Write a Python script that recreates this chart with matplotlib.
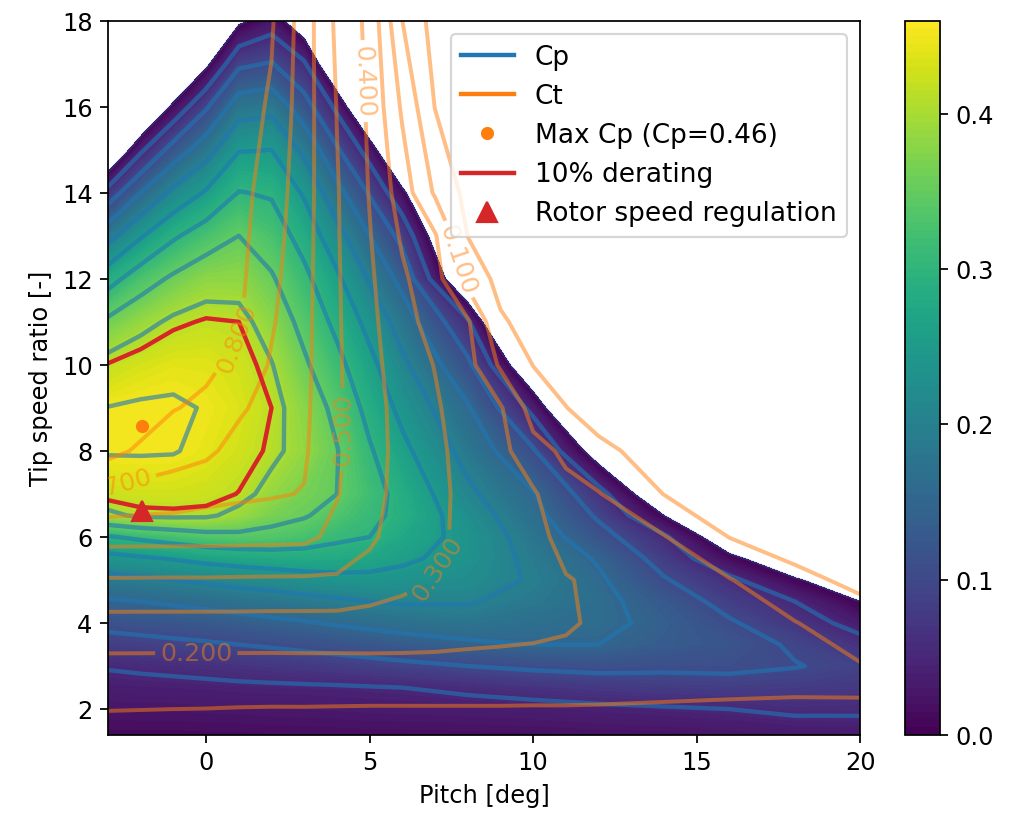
import numpy as np
import matplotlib
matplotlib.use('Agg')
import matplotlib.pyplot as plt
from matplotlib.lines import Line2D

plt.rcParams['font.size'] = 11

# Cp table: one list per pitch, values along tsr
pitch = [-3, -2, -1, 0, 1, 2, 3, 4, 5, 6, 8, 10, 12, 14, 16, 18, 20]
tsr = [1.4, 2, 2.5, 3, 3.5, 4, 4.5, 5, 5.5, 6, 6.5, 7, 8, 9, 10, 11, 12, 13, 14, 15, 16, 17, 18]
cp_by_pitch = [
    [.012, .025, .037, .053, .082, .113, .145, .184, .235, .296, .392, .423, .453, .451, .416, .359, .281, .183, .070, -.075, -.15, -.2, -.25],
    [.012, .026, .039, .056, .086, .118, .150, .192, .244, .309, .406, .427, .453, .455, .430, .386, .327, .245, .150, .041, -.09, -.15, -.2],
    [.012, .026, .040, .059, .091, .122, .156, .200, .253, .321, .408, .427, .452, .455, .439, .408, .358, .293, .212, .121, .012, -.10, -.15],
    [.013, .027, .041, .063, .095, .127, .163, .208, .263, .333, .406, .424, .442, .448, .438, .417, .381, .325, .255, .179, .094, -.012, -.13],
    [.013, .028, .043, .067, .100, .133, .171, .216, .270, .338, .389, .413, .428, .435, .428, .414, .382, .350, .302, .247, .177, .090, -.010],
    [.014, .029, .044, .071, .105, .140, .178, .222, .276, .335, .366, .387, .409, .414, .402, .380, .355, .326, .295, .250, .185, .103, .025],
    [.014, .030, .045, .075, .111, .146, .185, .230, .279, .324, .354, .365, .385, .378, .357, .336, .312, .282, .244, .188, .121, .056, -.040],
    [.015, .031, .046, .080, .117, .154, .192, .236, .277, .309, .332, .350, .352, .338, .314, .288, .259, .218, .167, .106, .039, -.07, -.15],
    [.016, .032, .048, .085, .123, .161, .200, .238, .270, .300, .310, .318, .305, .285, .263, .235, .195, .150, .095, .028, -.09, -.15, -.2],
    [.016, .033, .050, .090, .130, .168, .205, .235, .258, .274, .289, .285, .262, .237, .210, .177, .135, .085, .013, -.10, -.15, -.2, -.2],
    [.017, .035, .058, .100, .142, .177, .204, .222, .233, .236, .225, .210, .182, .155, .110, .058, -.07, -.13, -.2, -.2, -.2, -.2, -.2],
    [.018, .037, .067, .108, .150, .166, .183, .195, .188, .178, .165, .152, .105, .036, -.06, -.2, -.2, -.2, -.2, -.2, -.2, -.2, -.2],
    [.020, .042, .074, .113, .150, .162, .163, .157, .145, .118, .093, .068, -.03, -.15, -.2, -.2, -.2, -.2, -.2, -.2, -.2, -.2, -.2],
    [.021, .046, .079, .109, .132, .138, .127, .104, .081, .057, .000, -.056, -.15, -.2, -.2, -.2, -.2, -.2, -.2, -.2, -.2, -.2, -.2],
    [.025, .050, .082, .110, .120, .105, .084, .060, .012, -.04, -.10, -.15, -.2, -.2, -.2, -.2, -.2, -.2, -.2, -.2, -.2, -.2, -.2],
    [.030, .057, .080, .102, .094, .072, .050, .005, -.04, -.08, -.12, -.15, -.2, -.2, -.2, -.2, -.2, -.2, -.2, -.2, -.2, -.2, -.2],
    [.033, .056, .075, .089, .065, .034, .000, -.035, -.07, -.10, -.13, -.15, -.2, -.2, -.2, -.2, -.2, -.2, -.2, -.2, -.2, -.2, -.2],
]

# Ct table, same layout on its own grid
ct_pitch = [-3, -1, 0, 1, 2, 3, 4, 5, 6, 7, 8, 9, 10, 11, 12, 14, 16, 18, 20]
ct_tsr = [1.4, 2, 2.5, 3, 4, 5, 6, 7, 8, 9, 10, 11, 12, 13, 14, 16, 18]
ct_by_pitch = [
    [.060, .103, .138, .172, .267, .393, .531, .680, .830, .840, .845, .850, .855, .860, .865, .875, .885],
    [.058, .100, .135, .171, .267, .392, .530, .655, .739, .805, .820, .830, .840, .848, .855, .865, .875],
    [.057, .099, .134, .171, .267, .392, .529, .632, .720, .780, .820, .828, .835, .840, .845, .853, .860],
    [.056, .097, .133, .171, .267, .390, .527, .619, .665, .715, .776, .810, .820, .827, .832, .840, .850],
    [.055, .096, .132, .171, .266, .389, .525, .609, .636, .663, .690, .710, .726, .742, .757, .789, .810],
    [.055, .096, .133, .172, .266, .388, .522, .596, .612, .620, .625, .628, .632, .636, .640, .645, .650],
    [.054, .095, .133, .172, .265, .387, .475, .505, .512, .513, .512, .511, .510, .508, .507, .497, .480],
    [.054, .094, .133, .173, .265, .352, .420, .440, .445, .443, .435, .425, .415, .405, .395, .385, .375],
    [.054, .094, .133, .173, .262, .322, .345, .360, .365, .360, .345, .330, .315, .287, .252, .185, .100],
    [.054, .094, .133, .173, .255, .298, .315, .320, .318, .310, .297, .268, .238, .209, .087, -.003, -.040],
    [.054, .094, .133, .174, .240, .270, .280, .278, .270, .258, .235, .212, .067, -.002, -.030, -.050, -.060],
    [.053, .094, .133, .175, .230, .253, .257, .246, .230, .210, .085, .012, -.030, -.045, -.055, -.065, -.075],
    [.052, .093, .133, .175, .222, .235, .230, .212, .133, .059, -.002, -.035, -.045, -.055, -.060, -.070, -.080],
    [.052, .093, .133, .180, .208, .205, .170, .125, .083, .002, -.040, -.050, -.055, -.060, -.065, -.070, -.080],
    [.051, .092, .130, .170, .190, .185, .165, .105, .021, -.040, -.050, -.055, -.060, -.065, -.070, -.075, -.080],
    [.050, .090, .120, .150, .158, .140, .105, -.002, -.040, -.050, -.055, -.060, -.065, -.070, -.070, -.075, -.080],
    [.049, .090, .112, .135, .130, .105, -.002, -.040, -.050, -.055, -.060, -.065, -.070, -.070, -.075, -.080, -.080],
    [.048, .090, .108, .123, .104, .022, -.040, -.050, -.055, -.060, -.065, -.070, -.070, -.075, -.080, -.080, -.085],
    [.047, .092, .107, .106, .040, -.020, -.040, -.050, -.055, -.060, -.065, -.070, -.070, -.075, -.080, -.080, -.085],
]

cp_levels = [0.05, 0.10, 0.15, 0.20, 0.25, 0.30, 0.35, 0.40, 0.45]
ct_levels = [0.0, 0.1, 0.2, 0.3, 0.4, 0.5, 0.6, 0.7, 0.8]
ct_label_spots = [(7.45, 12.4), (-0.3, 3.42), (7.3, 5.2), (5.0, 16.6), (3.8, 8.5), (1.0, 10.6), (-2.75, 7.2)]

max_cp = 0.46
max_cp_pitch = -1.96
max_cp_tsr = 8.59
derating = 0.10
rsr_pitch = -1.96
rsr_tsr = 6.61

cp = np.array(cp_by_pitch).T
ct = np.array(ct_by_pitch).T

fig = plt.figure(figsize=(6.4, 5.18), dpi=158)
ax = fig.add_axes([0.1068, 0.1015, 0.7439, 0.8728])
cax = fig.add_axes([0.8952, 0.1015, 0.0346, 0.8728])

cf = ax.contourf(pitch, tsr, cp, levels=np.linspace(0, max_cp, 93), cmap='viridis')
ax.contour(pitch, tsr, cp, levels=[0.0], colors='tab:blue', alpha=0.3, linewidths=1)
ax.contour(pitch, tsr, cp, levels=cp_levels, colors='tab:blue', alpha=0.6, linewidths=2)
cs = ax.contour(ct_pitch, ct_tsr, ct, levels=ct_levels, colors='tab:orange', alpha=0.5, linewidths=1.8)
labels = ax.clabel(cs, manual=ct_label_spots, inline=True, fmt='%1.3f', fontsize=11.5)
for t in labels:
    t.set_clip_box(ax.bbox)
    t.set_clip_on(True)

ax.contour(pitch, tsr, cp, levels=[(1 - derating) * max_cp], colors='tab:red', linewidths=2)
ax.plot(max_cp_pitch, max_cp_tsr, 'o', color='tab:orange', ms=5)
ax.plot(rsr_pitch, rsr_tsr, '^', color='tab:red', ms=9)

ax.set_xlim(-3, 20)
ax.set_ylim(1.4, 18)
ax.set_xlabel('Pitch [deg]')
ax.set_ylabel('Tip speed ratio [-]')

handles = [
    Line2D([], [], color='tab:blue', lw=2),
    Line2D([], [], color='tab:orange', lw=2),
    Line2D([], [], color='tab:orange', marker='o', ls='none', ms=5),
    Line2D([], [], color='tab:red', lw=2),
    Line2D([], [], color='tab:red', marker='^', ls='none', ms=9),
]
names = ['Cp', 'Ct', 'Max Cp (Cp=%.2f)' % max_cp, '10% derating', 'Rotor speed regulation']
ax.legend(handles, names, loc='upper right', fontsize=12)

cb = fig.colorbar(cf, cax=cax, ticks=[0.0, 0.1, 0.2, 0.3, 0.4])

fig.savefig('out.png', dpi=158)
